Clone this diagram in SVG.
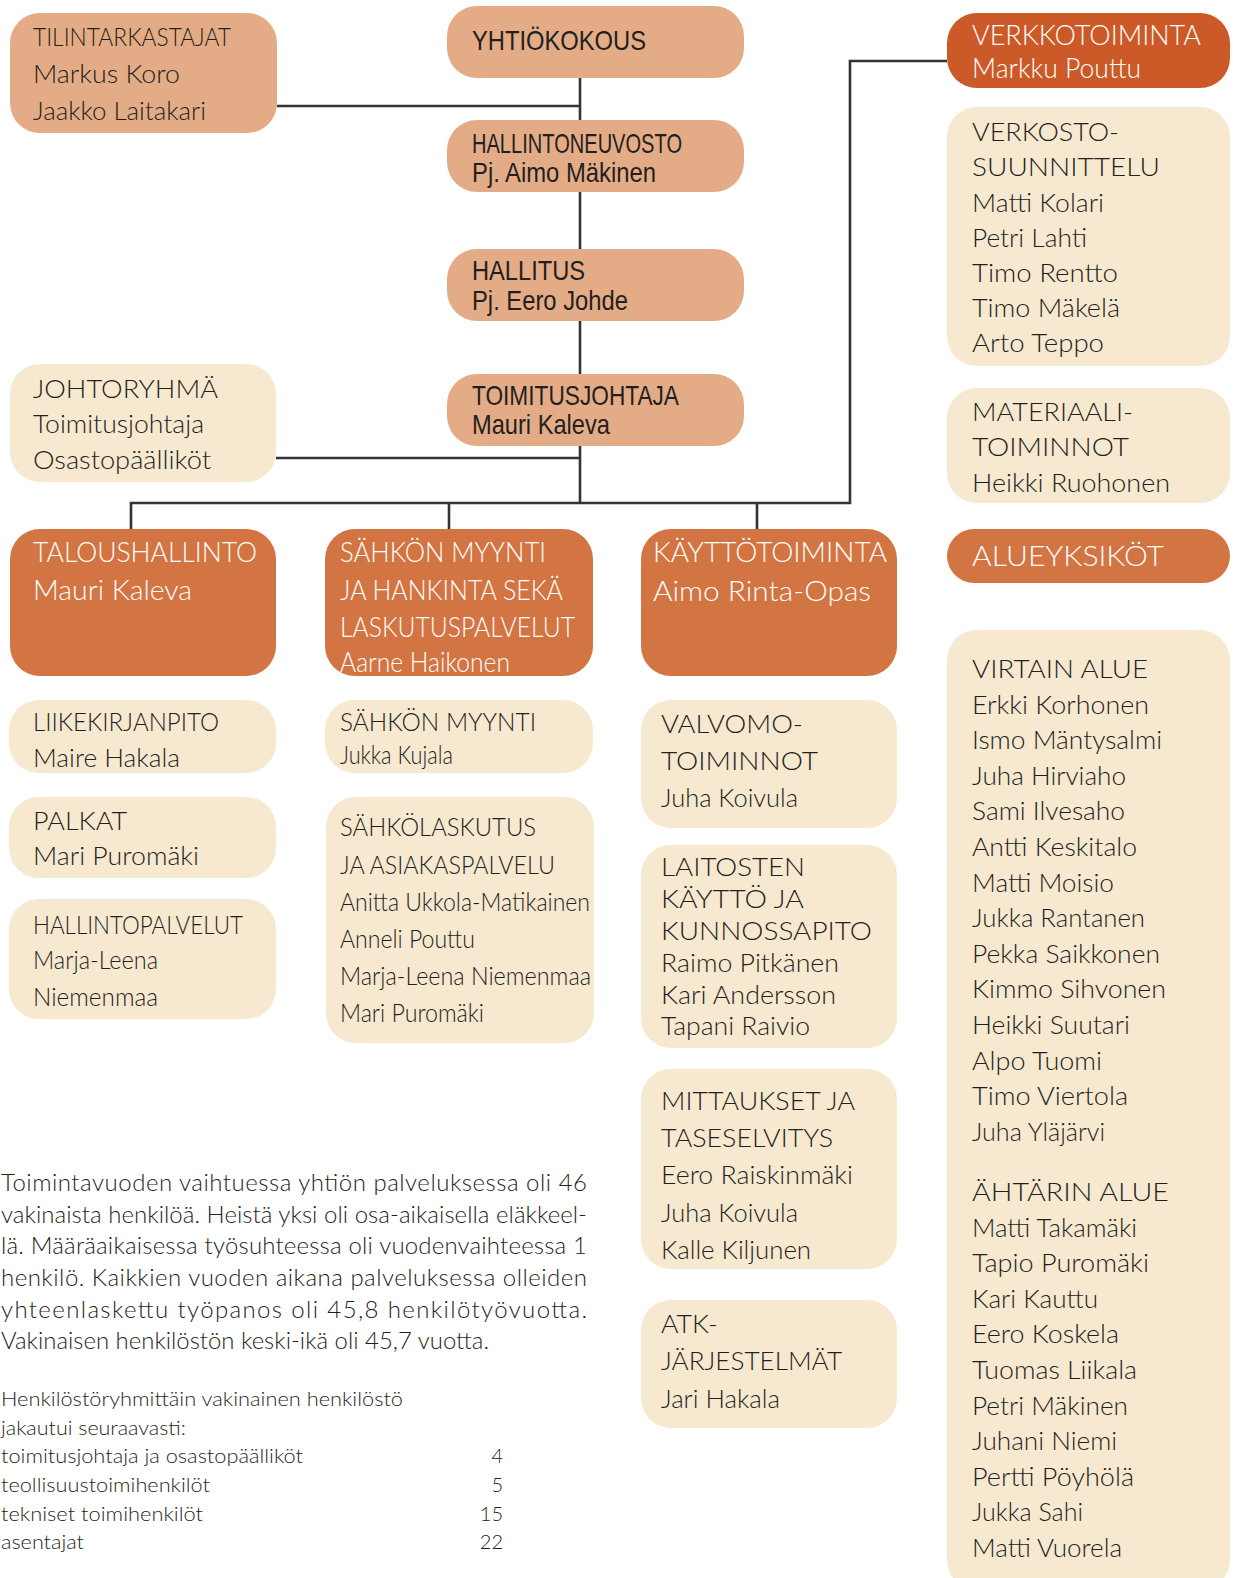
<svg xmlns="http://www.w3.org/2000/svg" width="1238" height="1578" viewBox="0 0 1238 1578">
<style>
.sal{fill:#E4AC86}.crm{fill:#F7E8D0}.org{fill:#D37443}.red{fill:#CC5A28}
.c{fill:none;stroke:#333333;stroke-width:2.6}
.t{font-family:Lato,"Open Sans","Liberation Sans",sans-serif;font-weight:300;font-size:26px;fill:#231f20}
.w{font-family:Lato,"Open Sans","Liberation Sans",sans-serif;font-weight:300;font-size:28px;fill:#ffffff}
.n{font-family:"Liberation Sans Narrow","Liberation Sans",Arial,sans-serif;font-size:28px;fill:#231f20}
.p{font-family:Lato,"Open Sans","Liberation Sans",sans-serif;font-weight:300;font-size:24px;fill:#231f20}
.s{font-family:Lato,"Open Sans","Liberation Sans",sans-serif;font-weight:300;font-size:20px;fill:#231f20}
</style>
<rect width="1238" height="1578" fill="#ffffff"/>
<g id="connectors">
<path class="c" d="M580 78V503M277 106H580M276 458H580M131 529V503H850V61H947M449 503V529M757 503V529"/>
</g>
<g id="tilintarkastajat">
<rect class="sal" x="10" y="13" width="267" height="120" rx="30"/>
<text class="t" x="33" y="46" textLength="198" lengthAdjust="spacingAndGlyphs">TILINTARKASTAJAT</text>
<text class="t" x="33" y="83" textLength="147" lengthAdjust="spacingAndGlyphs">Markus Koro</text>
<text class="t" x="33" y="120" textLength="173" lengthAdjust="spacingAndGlyphs">Jaakko Laitakari</text>
</g>
<g id="yhtiokokous">
<rect class="sal" x="447" y="6" width="297" height="72" rx="30"/>
<text class="n" x="472" y="50" textLength="174" lengthAdjust="spacingAndGlyphs">YHTIÖKOKOUS</text>
</g>
<g id="hallintoneuvosto">
<rect class="sal" x="447" y="120" width="297" height="72" rx="30"/>
<text class="n" x="472" y="153" textLength="210" lengthAdjust="spacingAndGlyphs">HALLINTONEUVOSTO</text>
<text class="n" x="472" y="182" textLength="184" lengthAdjust="spacingAndGlyphs">Pj. Aimo Mäkinen</text>
</g>
<g id="hallitus">
<rect class="sal" x="447" y="249" width="297" height="72" rx="30"/>
<text class="n" x="472" y="280" textLength="113" lengthAdjust="spacingAndGlyphs">HALLITUS</text>
<text class="n" x="472" y="310" textLength="156" lengthAdjust="spacingAndGlyphs">Pj. Eero Johde</text>
</g>
<g id="toimitusjohtaja">
<rect class="sal" x="447" y="374" width="297" height="72" rx="30"/>
<text class="n" x="472" y="405" textLength="207" lengthAdjust="spacingAndGlyphs">TOIMITUSJOHTAJA</text>
<text class="n" x="472" y="434" textLength="138" lengthAdjust="spacingAndGlyphs">Mauri Kaleva</text>
</g>
<g id="johtoryhma">
<rect class="crm" x="10" y="364" width="266" height="118" rx="30"/>
<text class="t" x="33" y="398" textLength="185" lengthAdjust="spacingAndGlyphs">JOHTORYHMÄ</text>
<text class="t" x="33" y="433" textLength="171" lengthAdjust="spacingAndGlyphs">Toimitusjohtaja</text>
<text class="t" x="33" y="469" textLength="178" lengthAdjust="spacingAndGlyphs">Osastopäälliköt</text>
</g>
<g id="verkkotoiminta">
<rect class="red" x="947" y="13" width="283" height="75" rx="30"/>
<text class="w" x="972" y="45" textLength="229" lengthAdjust="spacingAndGlyphs">VERKKOTOIMINTA</text>
<text class="w" x="972" y="78" textLength="169" lengthAdjust="spacingAndGlyphs">Markku Pouttu</text>
</g>
<g id="verkostosuunnittelu">
<rect class="crm" x="947" y="107" width="283" height="259" rx="30"/>
<text class="t" x="972" y="141" textLength="147" lengthAdjust="spacingAndGlyphs">VERKOSTO-</text>
<text class="t" x="972" y="176" textLength="188" lengthAdjust="spacingAndGlyphs">SUUNNITTELU</text>
<text class="t" x="972" y="212" textLength="132" lengthAdjust="spacingAndGlyphs">Matti Kolari</text>
<text class="t" x="972" y="247" textLength="115" lengthAdjust="spacingAndGlyphs">Petri Lahti</text>
<text class="t" x="972" y="282" textLength="146" lengthAdjust="spacingAndGlyphs">Timo Rentto</text>
<text class="t" x="972" y="317" textLength="148" lengthAdjust="spacingAndGlyphs">Timo Mäkelä</text>
<text class="t" x="972" y="352" textLength="132" lengthAdjust="spacingAndGlyphs">Arto Teppo</text>
</g>
<g id="materiaalitoiminnot">
<rect class="crm" x="947" y="388" width="283" height="115" rx="30"/>
<text class="t" x="972" y="421" textLength="161" lengthAdjust="spacingAndGlyphs">MATERIAALI-</text>
<text class="t" x="972" y="456" textLength="157" lengthAdjust="spacingAndGlyphs">TOIMINNOT</text>
<text class="t" x="972" y="492" textLength="198" lengthAdjust="spacingAndGlyphs">Heikki Ruohonen</text>
</g>
<g id="alueyksikot">
<rect class="org" x="947" y="529" width="283" height="54" rx="27"/>
<text class="w" x="972" y="566" textLength="192" lengthAdjust="spacingAndGlyphs">ALUEYKSIKÖT</text>
</g>
<g id="alueet">
<rect class="crm" x="947" y="630" width="283" height="960" rx="30"/>
<text class="t" x="972" y="678" textLength="176" lengthAdjust="spacingAndGlyphs">VIRTAIN ALUE</text>
<text class="t" x="972" y="714" textLength="177" lengthAdjust="spacingAndGlyphs">Erkki Korhonen</text>
<text class="t" x="972" y="749" textLength="190" lengthAdjust="spacingAndGlyphs">Ismo Mäntysalmi</text>
<text class="t" x="972" y="785" textLength="154" lengthAdjust="spacingAndGlyphs">Juha Hirviaho</text>
<text class="t" x="972" y="820" textLength="153" lengthAdjust="spacingAndGlyphs">Sami Ilvesaho</text>
<text class="t" x="972" y="856" textLength="165" lengthAdjust="spacingAndGlyphs">Antti Keskitalo</text>
<text class="t" x="972" y="892" textLength="142" lengthAdjust="spacingAndGlyphs">Matti Moisio</text>
<text class="t" x="972" y="927" textLength="173" lengthAdjust="spacingAndGlyphs">Jukka Rantanen</text>
<text class="t" x="972" y="963" textLength="188" lengthAdjust="spacingAndGlyphs">Pekka Saikkonen</text>
<text class="t" x="972" y="998" textLength="194" lengthAdjust="spacingAndGlyphs">Kimmo Sihvonen</text>
<text class="t" x="972" y="1034" textLength="158" lengthAdjust="spacingAndGlyphs">Heikki Suutari</text>
<text class="t" x="972" y="1070" textLength="130" lengthAdjust="spacingAndGlyphs">Alpo Tuomi</text>
<text class="t" x="972" y="1105" textLength="156" lengthAdjust="spacingAndGlyphs">Timo Viertola</text>
<text class="t" x="972" y="1141" textLength="133" lengthAdjust="spacingAndGlyphs">Juha Yläjärvi</text>
<text class="t" x="972" y="1201" textLength="197" lengthAdjust="spacingAndGlyphs">ÄHTÄRIN ALUE</text>
<text class="t" x="972" y="1237" textLength="165" lengthAdjust="spacingAndGlyphs">Matti Takamäki</text>
<text class="t" x="972" y="1272" textLength="177" lengthAdjust="spacingAndGlyphs">Tapio Puromäki</text>
<text class="t" x="972" y="1308" textLength="126" lengthAdjust="spacingAndGlyphs">Kari Kauttu</text>
<text class="t" x="972" y="1343" textLength="147" lengthAdjust="spacingAndGlyphs">Eero Koskela</text>
<text class="t" x="972" y="1379" textLength="165" lengthAdjust="spacingAndGlyphs">Tuomas Liikala</text>
<text class="t" x="972" y="1415" textLength="156" lengthAdjust="spacingAndGlyphs">Petri Mäkinen</text>
<text class="t" x="972" y="1450" textLength="145" lengthAdjust="spacingAndGlyphs">Juhani Niemi</text>
<text class="t" x="972" y="1486" textLength="162" lengthAdjust="spacingAndGlyphs">Pertti Pöyhölä</text>
<text class="t" x="972" y="1521" textLength="111" lengthAdjust="spacingAndGlyphs">Jukka Sahi</text>
<text class="t" x="972" y="1557" textLength="150" lengthAdjust="spacingAndGlyphs">Matti Vuorela</text>
</g>
<g id="taloushallinto">
<rect class="org" x="10" y="529" width="266" height="147" rx="30"/>
<text class="w" x="33" y="562" textLength="224" lengthAdjust="spacingAndGlyphs">TALOUSHALLINTO</text>
<text class="w" x="33" y="600" textLength="159" lengthAdjust="spacingAndGlyphs">Mauri Kaleva</text>
</g>
<g id="sahkonmyynti-hankinta">
<rect class="org" x="325" y="529" width="268" height="147" rx="30"/>
<text class="w" x="340" y="562" textLength="206" lengthAdjust="spacingAndGlyphs">SÄHKÖN MYYNTI</text>
<text class="w" x="340" y="600" textLength="223" lengthAdjust="spacingAndGlyphs">JA HANKINTA SEKÄ</text>
<text class="w" x="340" y="637" textLength="235" lengthAdjust="spacingAndGlyphs">LASKUTUSPALVELUT</text>
<text class="w" x="340" y="672" textLength="170" lengthAdjust="spacingAndGlyphs">Aarne Haikonen</text>
</g>
<g id="kayttotoiminta">
<rect class="org" x="641" y="529" width="256" height="147" rx="30"/>
<text class="w" x="653" y="562" textLength="234" lengthAdjust="spacingAndGlyphs">KÄYTTÖTOIMINTA</text>
<text class="w" x="653" y="601" textLength="218" lengthAdjust="spacingAndGlyphs">Aimo Rinta-Opas</text>
</g>
<g id="liikekirjanpito">
<rect class="crm" x="9" y="700" width="267" height="73" rx="30"/>
<text class="t" x="33" y="731" textLength="186" lengthAdjust="spacingAndGlyphs">LIIKEKIRJANPITO</text>
<text class="t" x="33" y="767" textLength="147" lengthAdjust="spacingAndGlyphs">Maire Hakala</text>
</g>
<g id="palkat">
<rect class="crm" x="9" y="797" width="267" height="81" rx="30"/>
<text class="t" x="33" y="830" textLength="94" lengthAdjust="spacingAndGlyphs">PALKAT</text>
<text class="t" x="33" y="865" textLength="166" lengthAdjust="spacingAndGlyphs">Mari Puromäki</text>
</g>
<g id="hallintopalvelut">
<rect class="crm" x="9" y="899" width="267" height="120" rx="30"/>
<text class="t" x="33" y="934" textLength="210" lengthAdjust="spacingAndGlyphs">HALLINTOPALVELUT</text>
<text class="t" x="33" y="969" textLength="125" lengthAdjust="spacingAndGlyphs">Marja-Leena</text>
<text class="t" x="33" y="1006" textLength="125" lengthAdjust="spacingAndGlyphs">Niemenmaa</text>
</g>
<g id="sahkonmyynti">
<rect class="crm" x="325" y="700" width="268" height="73" rx="30"/>
<text class="t" x="340" y="731" textLength="196" lengthAdjust="spacingAndGlyphs">SÄHKÖN MYYNTI</text>
<text class="t" x="340" y="764" textLength="113" lengthAdjust="spacingAndGlyphs">Jukka Kujala</text>
</g>
<g id="sahkolaskutus">
<rect class="crm" x="326" y="797" width="268" height="246" rx="30"/>
<text class="t" x="340" y="836" textLength="196" lengthAdjust="spacingAndGlyphs">SÄHKÖLASKUTUS</text>
<text class="t" x="340" y="874" textLength="215" lengthAdjust="spacingAndGlyphs">JA ASIAKASPALVELU</text>
<text class="t" x="340" y="911" textLength="250" lengthAdjust="spacingAndGlyphs">Anitta Ukkola-Matikainen</text>
<text class="t" x="340" y="948" textLength="135" lengthAdjust="spacingAndGlyphs">Anneli Pouttu</text>
<text class="t" x="340" y="985" textLength="251" lengthAdjust="spacingAndGlyphs">Marja-Leena Niemenmaa</text>
<text class="t" x="340" y="1022" textLength="144" lengthAdjust="spacingAndGlyphs">Mari Puromäki</text>
</g>
<g id="valvomotoiminnot">
<rect class="crm" x="641" y="700" width="256" height="128" rx="30"/>
<text class="t" x="661" y="733" textLength="142" lengthAdjust="spacingAndGlyphs">VALVOMO-</text>
<text class="t" x="661" y="770" textLength="157" lengthAdjust="spacingAndGlyphs">TOIMINNOT</text>
<text class="t" x="661" y="807" textLength="137" lengthAdjust="spacingAndGlyphs">Juha Koivula</text>
</g>
<g id="laitosten">
<rect class="crm" x="641" y="845" width="256" height="203" rx="30"/>
<text class="t" x="661" y="876" textLength="144" lengthAdjust="spacingAndGlyphs">LAITOSTEN</text>
<text class="t" x="661" y="908" textLength="143" lengthAdjust="spacingAndGlyphs">KÄYTTÖ JA</text>
<text class="t" x="661" y="940" textLength="211" lengthAdjust="spacingAndGlyphs">KUNNOSSAPITO</text>
<text class="t" x="661" y="972" textLength="178" lengthAdjust="spacingAndGlyphs">Raimo Pitkänen</text>
<text class="t" x="661" y="1004" textLength="175" lengthAdjust="spacingAndGlyphs">Kari Andersson</text>
<text class="t" x="661" y="1035" textLength="149" lengthAdjust="spacingAndGlyphs">Tapani Raivio</text>
</g>
<g id="mittaukset">
<rect class="crm" x="641" y="1069" width="256" height="200" rx="30"/>
<text class="t" x="661" y="1110" textLength="194" lengthAdjust="spacingAndGlyphs">MITTAUKSET JA</text>
<text class="t" x="661" y="1147" textLength="172" lengthAdjust="spacingAndGlyphs">TASESELVITYS</text>
<text class="t" x="661" y="1184" textLength="192" lengthAdjust="spacingAndGlyphs">Eero Raiskinmäki</text>
<text class="t" x="661" y="1222" textLength="137" lengthAdjust="spacingAndGlyphs">Juha Koivula</text>
<text class="t" x="661" y="1259" textLength="150" lengthAdjust="spacingAndGlyphs">Kalle Kiljunen</text>
</g>
<g id="atk">
<rect class="crm" x="641" y="1300" width="256" height="128" rx="30"/>
<text class="t" x="661" y="1333" textLength="57" lengthAdjust="spacingAndGlyphs">ATK-</text>
<text class="t" x="661" y="1370" textLength="181" lengthAdjust="spacingAndGlyphs">JÄRJESTELMÄT</text>
<text class="t" x="661" y="1408" textLength="119" lengthAdjust="spacingAndGlyphs">Jari Hakala</text>
</g>
<g id="teksti">
<text class="p" x="1" y="1191" textLength="586" lengthAdjust="spacing">Toimintavuoden vaihtuessa yhtiön palveluksessa oli 46</text>
<text class="p" x="1" y="1223" textLength="586" lengthAdjust="spacing">vakinaista henkilöä. Heistä yksi oli osa-aikaisella eläkkeel-</text>
<text class="p" x="1" y="1254" textLength="586" lengthAdjust="spacing">lä. Määräaikaisessa työsuhteessa oli vuodenvaihteessa 1</text>
<text class="p" x="1" y="1286" textLength="586" lengthAdjust="spacing">henkilö. Kaikkien vuoden aikana palveluksessa olleiden</text>
<text class="p" x="1" y="1318" textLength="586" lengthAdjust="spacing">yhteenlaskettu työpanos oli 45,8 henkilötyövuotta.</text>
<text class="p" x="1" y="1349" textLength="488" lengthAdjust="spacingAndGlyphs">Vakinaisen henkilöstön keski-ikä oli 45,7 vuotta.</text>
<text class="s" x="1" y="1406" textLength="402" lengthAdjust="spacingAndGlyphs">Henkilöstöryhmittäin vakinainen henkilöstö</text>
<text class="s" x="1" y="1435" textLength="185" lengthAdjust="spacingAndGlyphs">jakautui seuraavasti:</text>
<text class="s" x="1" y="1463" textLength="302" lengthAdjust="spacingAndGlyphs">toimitusjohtaja ja osastopäälliköt</text>
<text class="s" x="1" y="1492" textLength="209" lengthAdjust="spacingAndGlyphs">teollisuustoimihenkilöt</text>
<text class="s" x="1" y="1521" textLength="202" lengthAdjust="spacingAndGlyphs">tekniset toimihenkilöt</text>
<text class="s" x="1" y="1549" textLength="83" lengthAdjust="spacingAndGlyphs">asentajat</text>
<text class="s" x="503" y="1463" text-anchor="end">4</text>
<text class="s" x="503" y="1492" text-anchor="end">5</text>
<text class="s" x="503" y="1521" text-anchor="end">15</text>
<text class="s" x="503" y="1549" text-anchor="end">22</text>
</g>
</svg>
